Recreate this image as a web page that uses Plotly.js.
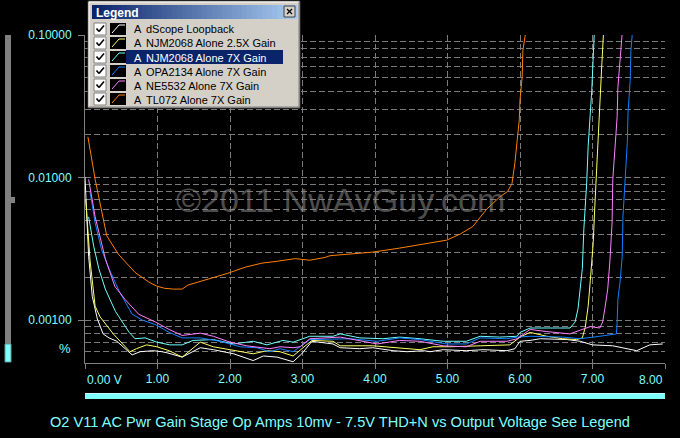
<!DOCTYPE html>
<html>
<head>
<meta charset="utf-8">
<script src="https://cdn.plot.ly/plotly-3.0.1.min.js"></script>
<style>
html,body{margin:0;padding:0;background:#000;}
#chart{width:680px;height:438px;}
</style>
</head>
<body>
<div id="chart"></div>
<script>
// ---------- DATA ----------
const seriesNames = [
  "dScope Loopback",
  "NJM2068 Alone 2.5X Gain",
  "NJM2068 Alone 7X Gain",
  "OPA2134 Alone 7X Gain",
  "NE5532 Alone 7X Gain",
  "TL072 Alone 7X Gain"
];
const seriesColors = ["#ffffff", "#ffff66", "#70ffff", "#1080ff", "#ff80ff", "#ff8000"];

const loopX = [0.00,0.05,0.10,0.17,0.25,0.33,0.44,0.51,0.65,0.76,0.88,0.94,1.06,1.13,1.34,1.59,1.77,2.05,2.32,2.46,2.65,2.87,2.99,3.13,3.42,3.52,3.79,3.97,4.25,4.44,4.67,4.76,4.94,5.26,5.49,5.82,5.93,6.00,6.14,6.28,6.65,6.83,7.00,7.28,7.61,7.79,7.97];
const loopY = [0.0101,0.0028,0.00147,0.00102,0.0008,0.00075,0.00071,0.00066,0.00057,0.0006,0.00061,0.00061,0.0006,0.00059,0.00055,0.00064,0.00062,0.00058,0.00052,0.00056,0.00055,0.00051,0.00058,0.00071,0.00068,0.00064,0.00063,0.00064,0.00061,0.0006,0.00061,0.0006,0.00062,0.00061,0.00062,0.00061,0.00063,0.00071,0.00072,0.00074,0.00073,0.00071,0.00067,0.00066,0.00061,0.00067,0.00068];

const njm25X = [0.01,0.04,0.07,0.14,0.21,0.39,0.62,0.71,0.85,0.99,1.16,1.34,1.59,1.77,2.05,2.32,2.51,2.69,2.87,3.13,3.42,3.52,3.97,4.25,4.62,4.80,5.03,5.45,5.86,6.00,6.14,6.37,6.59,6.78,6.86,6.90,6.94,6.97,7.01,7.03,7.06,7.08,7.10,7.13,7.15,7.16];
const njm25Y = [0.007,0.0045,0.0026,0.00125,0.00105,0.0008,0.0006,0.00063,0.00067,0.00065,0.00061,0.00055,0.0007,0.00065,0.00061,0.00058,0.00061,0.0006,0.00056,0.00072,0.00071,0.00066,0.00066,0.00064,0.00062,0.00065,0.00065,0.00066,0.00067,0.00076,0.00082,0.00077,0.00074,0.00073,0.00075,0.00089,0.00125,0.0019,0.0035,0.006,0.0127,0.0193,0.037,0.064,0.1,0.12];

const njm7X = [0.05,0.12,0.19,0.28,0.42,0.61,0.69,0.83,0.99,1.17,1.34,1.49,1.77,2.05,2.32,2.51,2.73,2.87,3.10,3.42,3.52,3.79,4.11,4.34,4.62,4.94,5.26,5.45,5.72,5.96,6.00,6.14,6.69,6.76,6.80,6.86,6.88,6.92,6.94,6.97,6.99,7.01,7.02,7.03];
const njm7Y = [0.0053,0.0033,0.0023,0.00165,0.00115,0.00082,0.00074,0.00075,0.0007,0.00067,0.00067,0.00072,0.00073,0.00068,0.00071,0.00067,0.00072,0.0007,0.00077,0.00077,0.0008,0.00075,0.00074,0.00076,0.00074,0.00071,0.00071,0.00077,0.00076,0.00077,0.00082,0.00088,0.00088,0.00097,0.0012,0.0023,0.0043,0.0092,0.0165,0.0267,0.041,0.07,0.1,0.12];

const opaX = [0.07,0.14,0.23,0.33,0.47,0.65,0.79,0.97,1.16,1.34,1.59,1.86,2.14,2.37,2.55,2.69,2.87,2.97,3.10,3.66,3.79,4.03,4.34,4.62,4.99,5.26,5.45,5.82,5.96,6.14,6.59,6.83,7.10,7.33,7.34,7.35,7.38,7.41,7.42,7.45,7.48,7.49,7.52,7.53,7.55,7.56];
const opaY = [0.0079,0.0048,0.0031,0.0023,0.0016,0.0011,0.001,0.00093,0.00082,0.00075,0.00075,0.00071,0.00065,0.00064,0.0006,0.00063,0.0006,0.00065,0.00073,0.00074,0.00073,0.00071,0.00075,0.00073,0.00068,0.00068,0.00075,0.00074,0.00076,0.00077,0.00076,0.00074,0.00077,0.0008,0.00097,0.0014,0.00185,0.0028,0.0053,0.0101,0.0176,0.0285,0.048,0.078,0.1,0.12];

const neX = [0.05,0.14,0.28,0.41,0.55,0.74,0.97,1.16,1.34,1.49,1.59,1.77,2.00,2.23,2.37,2.55,2.69,2.87,2.97,3.10,3.52,3.79,4.03,4.34,4.62,4.94,5.26,5.45,5.82,5.96,6.14,6.37,6.69,6.83,6.97,7.10,7.14,7.17,7.21,7.24,7.27,7.28,7.31,7.34,7.35,7.38,7.41,7.42];
const neY = [0.0097,0.0053,0.0027,0.00173,0.0014,0.0011,0.00097,0.00086,0.00078,0.0008,0.00081,0.00077,0.0007,0.00066,0.00065,0.00063,0.00065,0.00064,0.00065,0.00074,0.00076,0.00072,0.00068,0.00072,0.00071,0.00066,0.00065,0.00071,0.00071,0.00074,0.00086,0.00083,0.0008,0.00085,0.0009,0.00088,0.00097,0.0012,0.00165,0.0026,0.0048,0.0097,0.0157,0.0267,0.043,0.064,0.098,0.12];

const tlX = [0.04,0.14,0.30,0.46,0.69,0.88,0.99,1.10,1.22,1.34,1.42,1.75,1.97,2.21,2.44,2.66,2.90,3.10,3.31,3.38,3.97,4.34,4.99,5.17,5.35,5.54,5.72,5.83,5.89,5.93,5.96,5.99,6.00,6.03,6.04,6.07,6.08];
const tlY = [0.0193,0.0097,0.0039,0.0029,0.00216,0.00185,0.00173,0.00167,0.00165,0.00165,0.00176,0.00196,0.00213,0.00235,0.00251,0.00259,0.0027,0.00263,0.00275,0.00283,0.0030,0.0032,0.00364,0.0040,0.00454,0.006,0.0073,0.008,0.0091,0.0127,0.0176,0.0254,0.035,0.051,0.078,0.098,0.12];

const xTickVals = [0,1,2,3,4,5,6,7,8];
const xTickText = ["", "1.00", "2.00", "3.00", "4.00", "5.00", "6.00", "7.00", ""];
const xFirstLabel = "0.00 V";
const xLastLabel = "8.00";
const yTickVals = [0.001, 0.01, 0.1];
const yTickText = ["0.00100", "0.01000", "0.10000"];
const yMinorVals = [0.0005,0.0006,0.0007,0.0008,0.0009,0.002,0.003,0.004,0.005,0.006,0.007,0.008,0.009,0.02,0.03,0.04,0.05,0.06,0.07,0.08,0.09];
const yUnit = "%";
const chartTitle = "O2 V11 AC Pwr Gain Stage Op Amps 10mv - 7.5V THD+N vs Output Voltage See Legend";
const watermark = "\u00A92011 NwAvGuy.com";
const legendTitle = "Legend";
const highlightedIndex = 2;

// ---------- LAYOUT HELPERS (pixel -> paper) ----------
const L = 85, R = 665, T = 35, B = 363;
const pxX = p => (p - L) / (R - L);
const pxY = p => (B - p) / (B - T);

const cyan = "#80ffff";
const grid = "#7a7a7a";
const font = "Liberation Sans, Arial, sans-serif";

const seriesX = [loopX, njm25X, njm7X, opaX, neX, tlX];
const seriesY = [loopY, njm25Y, njm7Y, opaY, neY, tlY];

const traces = seriesNames.map((n, i) => ({
  type: "scatter", mode: "lines", name: n,
  x: seriesX[i], y: seriesY[i],
  line: {color: seriesColors[i], width: 1},
  hoverinfo: "skip"
}));

const shapes = [];
const annotations = [];
function rect(x0, y0, x1, y1, fill, line, lw) {
  shapes.push({type: "rect", xref: "paper", yref: "paper", layer: "above",
    x0: pxX(x0), x1: pxX(x1), y0: pxY(y1), y1: pxY(y0),
    fillcolor: fill, line: {color: line || fill, width: lw === undefined ? 0 : lw}});
}
function seg(x0, y0, x1, y1, color, w) {
  shapes.push({type: "line", xref: "paper", yref: "paper", layer: "above",
    x0: pxX(x0), x1: pxX(x1), y0: pxY(y0), y1: pxY(y1),
    line: {color: color, width: w || 1}});
}
function text(t, x, y, opts) {
  annotations.push(Object.assign({text: t, xref: "paper", yref: "paper",
    x: pxX(x), y: pxY(y), showarrow: false, xanchor: "left", yanchor: "middle",
    font: {family: font, size: 11, color: "#000"}}, opts || {}));
}

// Left slider
rect(5, 35, 11, 344, "#808080");
rect(11, 197, 15, 203, "#808080");
rect(5, 344, 11, 362, cyan, "#5a9a9a", 1);
// Bottom bar
rect(85, 393, 665, 399, cyan);
seg(85, 393.5, 665, 393.5, "#c0ffff", 1);

// Legend window
rect(88, 1, 300, 108, "#d4d0c8", "#404040", 1);
seg(89, 2, 299, 2, "#ffffff", 1);
seg(89, 2, 89, 107, "#ffffff", 1);
seg(89, 107, 299, 107, "#808080", 1);
seg(299, 2, 299, 107, "#808080", 1);
// title bar gradient
const c0 = [10, 36, 106], c1 = [166, 202, 240];
const N = 41, tx0 = 92, tx1 = 297;
for (let k = 0; k < N; k++) {
  const f = k / (N - 1);
  const c = c0.map((v, j) => Math.round(v + (c1[j] - v) * f));
  const a = tx0 + (tx1 - tx0) * k / N, b = tx0 + (tx1 - tx0) * (k + 1) / N + 0.3;
  rect(a, 5, b, 19, `rgb(${c[0]},${c[1]},${c[2]})`);
}
text(legendTitle, 94, 12.5, {font: {family: font, size: 12, color: "#fff", weight: "bold"}});
// close button
rect(284, 6, 295, 17, "#d4d0c8", "#404040", 1);
seg(287, 9, 292, 14, "#000", 1.3);
seg(292, 9, 287, 14, "#000", 1.3);
// highlight row
rect(126, 50, 283, 64, "#0a246a");
seriesNames.forEach((n, i) => {
  const yc = 29 + 14 * i;
  rect(94, yc - 6, 106, yc + 6, "#ffffff", "#808080", 1);
  seg(96.5, yc - 0.5, 99, yc + 2.5, "#000", 1.6);
  seg(99, yc + 2.5, 104, yc - 3.5, "#000", 1.6);
  rect(110, yc - 6, 126, yc + 6, "#000000");
  seg(112, yc + 4, 119, yc - 4, seriesColors[i], 1);
  seg(119, yc - 4, 125, yc - 4, seriesColors[i], 1);
  const col = i === highlightedIndex ? "#ffffff" : "#000000";
  text("A", 132, yc + 0.5, {font: {family: font, size: 11, color: col}});
  text(n, 144, yc + 0.5, {font: {family: font, size: 11, color: col}});
});

// Axis extra labels
text(xFirstLabel, 85, 380, {font: {family: font, size: 12, color: cyan}});
text(xLastLabel, 665, 380, {xanchor: "right", font: {family: font, size: 12, color: cyan}});
text(yUnit, 73, 348, {xanchor: "right", font: {family: font, size: 13, color: cyan}});
// Title
text(chartTitle, 340, 422, {xanchor: "center", font: {family: font, size: 14.6, color: cyan}});
// Watermark
text(watermark, 340, 200, {xanchor: "center", opacity: 0.55, font: {family: font, size: 34, color: "#8a8a8a"}});

const layout = {
  width: 680, height: 438,
  margin: {l: L, r: 680 - R, t: T, b: 438 - B, pad: 0},
  paper_bgcolor: "#000", plot_bgcolor: "#000",
  showlegend: false,
  font: {family: font, color: cyan, size: 12},
  xaxis: {
    range: [0, 8], tickmode: "array", tickvals: xTickVals, ticktext: xTickText,
    showgrid: true, gridcolor: grid, griddash: "6px,3px", gridwidth: 1,
    zeroline: false, showline: true, linecolor: "#808080", linewidth: 1,
    ticks: "outside", ticklen: 5, tickcolor: "#808080",
    tickfont: {family: font, size: 12, color: cyan}, fixedrange: true
  },
  yaxis: {
    type: "log", range: [Math.log10(0.0005), -0.99999],
    tickmode: "array", tickvals: yTickVals, ticktext: yTickText,
    showgrid: true, gridcolor: grid, griddash: "6px,3px", gridwidth: 1,
    minor: {tickmode: "array", tickvals: yMinorVals, showgrid: true, gridcolor: grid, griddash: "6px,3px", ticks: ""},
    zeroline: false, showline: true, linecolor: "#808080", linewidth: 1,
    ticks: "outside", ticklen: 6, tickcolor: "#808080", ticklabelstandoff: 4,
    tickfont: {family: font, size: 12, color: cyan}, fixedrange: true
  },
  shapes: shapes,
  annotations: annotations
};

Plotly.newPlot("chart", traces, layout, {staticPlot: true, displayModeBar: false});
</script>
</body>
</html>
